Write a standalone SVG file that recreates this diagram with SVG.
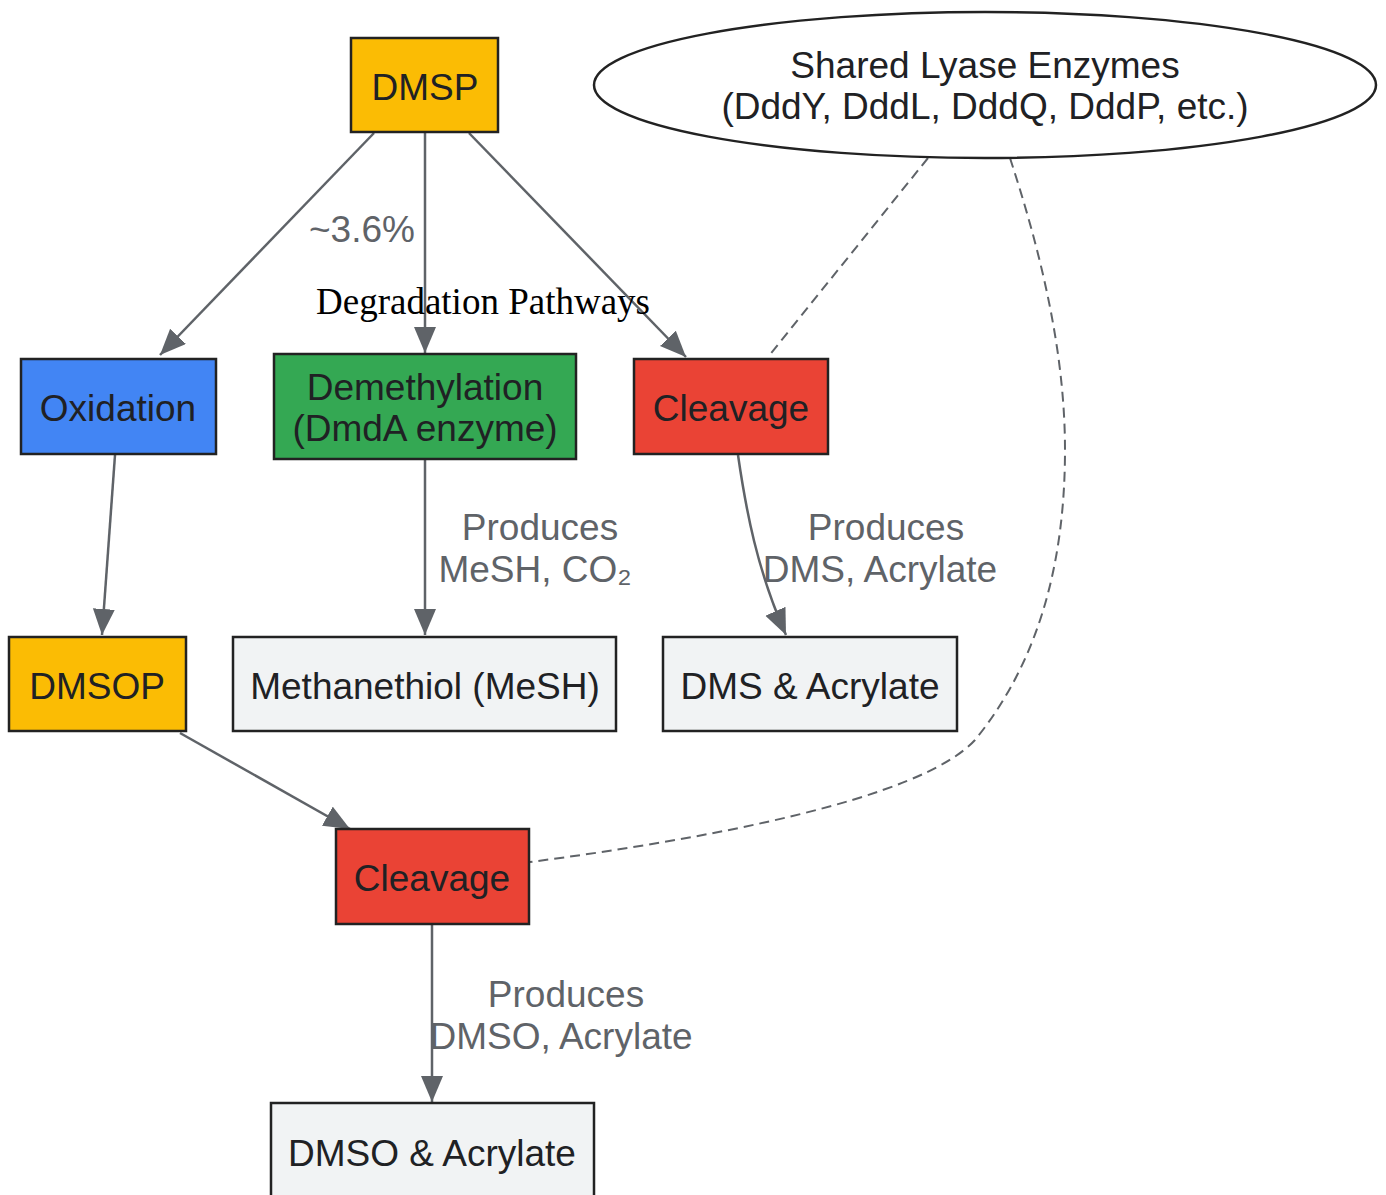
<svg xmlns="http://www.w3.org/2000/svg" width="1386" height="1195" viewBox="0 0 1386 1195">
<defs>
<style>
.n{stroke:#222;stroke-width:2.5}
.t{font-family:"Liberation Sans",Arial,sans-serif;font-size:37px;fill:#202124;text-anchor:middle}
.l{font-family:"Liberation Sans",Arial,sans-serif;font-size:37px;fill:#5F6368;text-anchor:middle}
.e{fill:none;stroke:#5F6368;stroke-width:2.5}
.d{fill:none;stroke:#5F6368;stroke-width:2;stroke-dasharray:10,6}
</style>
<marker id="a" markerUnits="userSpaceOnUse" markerWidth="28" markerHeight="24" refX="26" refY="11" orient="auto">
<path d="M0,0 L26,11 L0,22 Z" fill="#5F6368"/>
</marker>
</defs>
<rect width="1386" height="1195" fill="#fff"/>
<g id="connectors">
<path class="e" d="M374,133 L160,355" marker-end="url(#a)"/>
<path class="e" d="M425,133 L425,353" marker-end="url(#a)"/>
<path class="e" d="M469,133 L686,357" marker-end="url(#a)"/>
<path class="e" d="M115,455 L102,635" marker-end="url(#a)"/>
<path class="e" d="M425,460 L425,635" marker-end="url(#a)"/>
<path class="e" d="M738,455 C746,510 757,570 786,635" marker-end="url(#a)"/>
<path class="e" d="M180,733 L350,829" marker-end="url(#a)"/>
<path class="e" d="M432,925 L432,1102" marker-end="url(#a)"/>
<path class="d" d="M928,158 L768,357"/>
<path class="d" d="M1010,158 C1040,250 1065,350 1065,450 C1065,560 1040,660 975,740 C920,800 700,840 530,862"/>
<text class="l" x="362" y="242">~3.6%</text>
<text x="483" y="314" font-family="'Liberation Serif','Times New Roman',serif" font-size="37" fill="#000" text-anchor="middle">Degradation Pathways</text>
<text class="l" x="540" y="540">Produces</text>
<text class="l" x="535" y="582">MeSH, CO₂</text>
<text class="l" x="886" y="540">Produces</text>
<text class="l" x="880" y="582">DMS, Acrylate</text>
<text class="l" x="566" y="1007">Produces</text>
<text class="l" x="561" y="1049">DMSO, Acrylate</text>
</g>
<g id="DMSP"><rect class="n" x="351" y="38" width="147" height="94" fill="#FBBC04"/><text class="t" x="425" y="100">DMSP</text></g>
<g id="Lyases"><ellipse class="n" cx="985" cy="85" rx="391" ry="73" fill="#fff"/><text class="t" x="985" y="78">Shared Lyase Enzymes</text><text class="t" x="985" y="119">(DddY, DddL, DddQ, DddP, etc.)</text></g>
<g id="Oxidation"><rect class="n" x="21" y="359" width="195" height="95" fill="#4285F4"/><text class="t" x="118" y="421">Oxidation</text></g>
<g id="Demethylation"><rect class="n" x="274" y="354" width="302" height="105" fill="#34A853"/><text class="t" x="425" y="400">Demethylation</text><text class="t" x="425" y="441">(DmdA enzyme)</text></g>
<g id="Cleavage1"><rect class="n" x="634" y="359" width="194" height="95" fill="#EA4335"/><text class="t" x="731" y="421">Cleavage</text></g>
<g id="DMSOP"><rect class="n" x="9" y="637" width="177" height="94" fill="#FBBC04"/><text class="t" x="97" y="699">DMSOP</text></g>
<g id="MeSH"><rect class="n" x="233" y="637" width="383" height="94" fill="#F1F3F4"/><text class="t" x="425" y="699">Methanethiol (MeSH)</text></g>
<g id="DMS"><rect class="n" x="663" y="637" width="294" height="94" fill="#F1F3F4"/><text class="t" x="810" y="699">DMS &amp; Acrylate</text></g>
<g id="Cleavage2"><rect class="n" x="336" y="829" width="193" height="95" fill="#EA4335"/><text class="t" x="432" y="891">Cleavage</text></g>
<g id="DMSO"><rect class="n" x="271" y="1103" width="323" height="100" fill="#F1F3F4"/><text class="t" x="432" y="1166">DMSO &amp; Acrylate</text></g>
</svg>
